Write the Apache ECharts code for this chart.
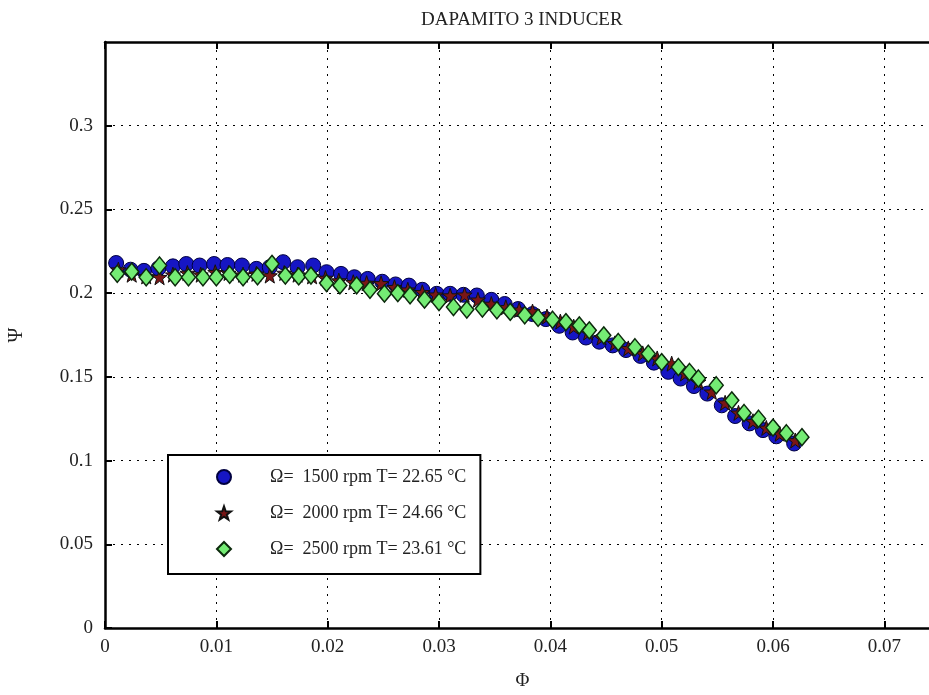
<!DOCTYPE html>
<html>
<head>
<meta charset="utf-8">
<title>DAPAMITO 3 INDUCER</title>
<script src="https://cdn.jsdelivr.net/npm/echarts@6/dist/echarts.min.js"></script>
<style>
  html, body { margin: 0; padding: 0; background: #fff; overflow: hidden; }
  /* the axes box runs slightly past the right edge of the window */
  #chart { width: 960px; height: 695px; }
</style>
</head>
<body>
<div id="chart"></div>
<script>
// Flow coefficient (Phi) and head coefficient (Psi) per rotational speed
const seriesNames = [
  'Ω=  1500 rpm T= 22.65 °C',
  'Ω=  2000 rpm T= 24.66 °C',
  'Ω=  2500 rpm T= 23.61 °C'
];

const phi1500 = [0.0010,0.0023,0.0035,0.0048,0.0061,0.0073,0.0085,0.0098,0.0110,0.0123,
  0.0136,0.0148,0.0160,0.0173,0.0187,0.0199,0.0212,0.0224,0.0236,0.0249,
  0.0261,0.0273,0.0285,0.0298,0.0310,0.0322,0.0334,0.0347,0.0359,0.0371,
  0.0384,0.0396,0.0408,0.0420,0.0432,0.0444,0.0456,0.0468,0.0481,0.0493,
  0.0506,0.0517,0.0529,0.0541,0.0554,0.0566,0.0579,0.0591,0.0603,0.0619];
const psi1500 = [0.2180,0.2140,0.2133,0.2148,0.2160,0.2174,0.2165,0.2174,0.2168,0.2165,
  0.2145,0.2155,0.2185,0.2155,0.2165,0.2125,0.2115,0.2095,0.2085,0.2068,
  0.2052,0.2045,0.2020,0.1996,0.1996,0.1990,0.1986,0.1960,0.1935,0.1905,
  0.1875,0.1845,0.1805,0.1765,0.1735,0.1710,0.1688,0.1660,0.1625,0.1585,
  0.1530,0.1490,0.1445,0.1400,0.1330,0.1266,0.1222,0.1182,0.1145,0.1102];

const phi2000 = [0.0012,0.0024,0.0037,0.0049,0.0061,0.0074,0.0086,0.0099,0.0111,0.0124,
  0.0136,0.0148,0.0161,0.0173,0.0186,0.0198,0.0210,0.0223,0.0235,0.0248,
  0.0260,0.0272,0.0285,0.0297,0.0310,0.0323,0.0335,0.0347,0.0360,0.0372,
  0.0384,0.0397,0.0409,0.0421,0.0434,0.0446,0.0458,0.0470,0.0483,0.0496,
  0.0509,0.0521,0.0533,0.0545,0.0557,0.0569,0.0582,0.0594,0.0606,0.0620];
const psi2000 = [0.2140,0.2110,0.2100,0.2095,0.2110,0.2120,0.2110,0.2125,0.2120,0.2110,
  0.2115,0.2105,0.2120,0.2110,0.2100,0.2090,0.2075,0.2065,0.2060,0.2058,
  0.2035,0.2020,0.2005,0.1990,0.1985,0.1990,0.1960,0.1935,0.1915,0.1900,
  0.1890,0.1860,0.1830,0.1800,0.1765,0.1735,0.1700,0.1670,0.1640,0.1610,
  0.1579,0.1520,0.1470,0.1410,0.1345,0.1285,0.1235,0.1195,0.1160,0.1120];

const phi2500 = [0.0011,0.0024,0.0037,0.0049,0.0063,0.0075,0.0088,0.0100,0.0112,0.0124,
  0.0137,0.0150,0.0162,0.0174,0.0185,0.0199,0.0211,0.0226,0.0238,0.0251,
  0.0263,0.0274,0.0287,0.0300,0.0313,0.0325,0.0339,0.0352,0.0364,0.0377,
  0.0389,0.0402,0.0414,0.0426,0.0435,0.0448,0.0461,0.0476,0.0488,0.0500,
  0.0515,0.0525,0.0533,0.0549,0.0563,0.0574,0.0587,0.0600,0.0612,0.0626];
const psi2500 = [0.2116,0.2129,0.2095,0.2165,0.2095,0.2095,0.2095,0.2095,0.2110,0.2095,
  0.2101,0.2175,0.2105,0.2100,0.2105,0.2060,0.2046,0.2046,0.2020,0.1997,
  0.2000,0.1987,0.1961,0.1947,0.1917,0.1902,0.1908,0.1898,0.1888,0.1868,
  0.1853,0.1841,0.1827,0.1807,0.1778,0.1748,0.1708,0.1677,0.1638,0.1588,
  0.1559,0.1529,0.1490,0.1450,0.1360,0.1284,0.1250,0.1197,0.1163,0.1140];

const starPath = 'path://M0,-10L2.35,-3.24L9.51,-3.09L3.8,1.24L5.88,8.09L0,4L-5.88,8.09L-3.8,1.24L-9.51,-3.09L-2.35,-3.24Z';

const pairs = (xs, ys) => xs.map((x, i) => [x, ys[i]]);

const serif = 'Liberation Serif';
const black = '#000';

const chart = echarts.init(document.getElementById('chart'), null, { renderer: 'canvas' });

const gridLine = { show: true, lineStyle: { color: black, width: 1, type: [2, 6] } };

chart.setOption({
  animation: false,
  backgroundColor: '#fff',
  title: {
    text: 'DAPAMITO 3 INDUCER',
    left: 416,
    top: 6,
    textStyle: { fontFamily: serif, fontSize: 19, fontWeight: 'normal', color: '#222' }
  },
  grid: { left: 105, top: 42, width: 835, height: 586, containLabel: false, outerBoundsMode: 'none' },
  xAxis: [
    {
      type: 'value', position: 'bottom', min: 0, max: 0.075, interval: 0.01,
      name: 'Φ', nameLocation: 'middle', nameGap: 44,
      nameTextStyle: { fontFamily: serif, fontSize: 19, color: '#222' },
      axisLine: { show: true, onZero: false, lineStyle: { color: black, width: 2.5 } },
      axisTick: { show: true, inside: true, length: 7, lineStyle: { color: black, width: 2 } },
      axisLabel: { fontFamily: serif, fontSize: 19, color: '#222', margin: 10, showMaxLabel: false },
      splitLine: gridLine
    },
    {
      type: 'value', position: 'top', min: 0, max: 0.075, interval: 0.01,
      axisLine: { show: true, onZero: false, lineStyle: { color: black, width: 2.5 } },
      axisTick: { show: true, inside: true, length: 7, lineStyle: { color: black, width: 2 } },
      axisLabel: { show: false },
      splitLine: { show: false }
    }
  ],
  yAxis: {
    type: 'value', min: 0, max: 0.35, interval: 0.05,
    name: 'Ψ', nameLocation: 'middle', nameGap: 78, nameRotate: 90,
    nameTextStyle: { fontFamily: serif, fontSize: 20, color: '#222' },
    axisLine: { show: true, onZero: false, lineStyle: { color: black, width: 2.5 } },
    axisTick: { show: true, inside: true, length: 7, lineStyle: { color: black, width: 2 } },
    axisLabel: { fontFamily: serif, fontSize: 19, color: '#222', margin: 12, showMaxLabel: false },
    splitLine: gridLine
  },
  legend: {
    orient: 'vertical',
    left: 168,
    top: 455,
    padding: [13, 14, 16, 48],
    itemGap: 18,
    itemWidth: 14,
    itemHeight: 14,
    backgroundColor: '#fff',
    borderColor: black,
    borderWidth: 2,
    selectedMode: false,
    textStyle: { fontFamily: serif, fontSize: 18, color: '#222', padding: [0, 0, 0, 34] },
    data: [
      { name: seriesNames[0], icon: 'circle' },
      { name: seriesNames[1], icon: starPath },
      { name: seriesNames[2], icon: 'diamond' }
    ]
  },
  series: [
    {
      name: seriesNames[0], type: 'scatter', symbol: 'circle', symbolSize: 15,
      data: pairs(phi1500, psi1500),
      itemStyle: { color: '#1616c4', borderColor: '#000040', borderWidth: 1, opacity: 1 },
      emphasis: { disabled: true }
    },
    {
      name: seriesNames[1], type: 'scatter', symbol: starPath, symbolSize: 15,
      data: pairs(phi2000, psi2000),
      itemStyle: { color: '#7a1616', borderColor: '#111', borderWidth: 1, opacity: 1 },
      emphasis: { disabled: true }
    },
    {
      name: seriesNames[2], type: 'scatter', symbol: 'diamond', symbolSize: [14, 17],
      data: pairs(phi2500, psi2500),
      itemStyle: { color: '#74ec74', borderColor: '#0c2a0c', borderWidth: 1.5, opacity: 1 },
      emphasis: { disabled: true }
    }
  ]
});
</script>
</body>
</html>
